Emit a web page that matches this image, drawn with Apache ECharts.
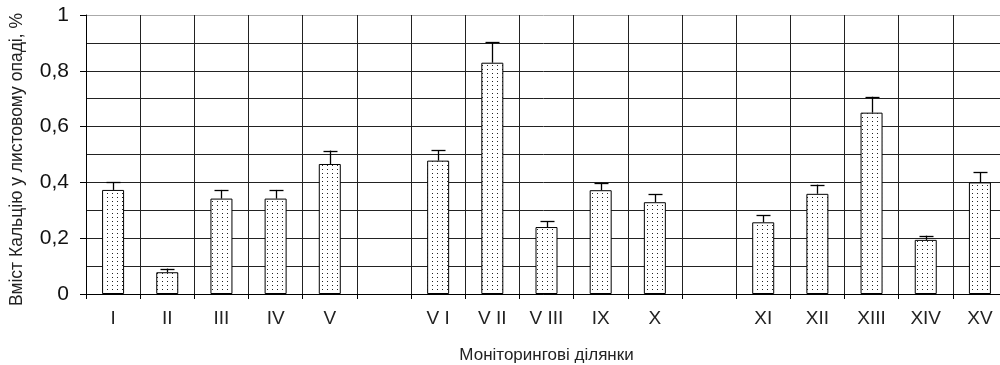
<!DOCTYPE html>
<html>
<head>
<meta charset="utf-8">
<script src="https://cdn.jsdelivr.net/npm/echarts@6/dist/echarts.min.js"></script>
<style>
  html, body { margin: 0; padding: 0; background: #fff; }
  #chart { width: 1000px; height: 365px; }
</style>
</head>
<body>
<div id="chart"></div>
<script>
// Monitoring plots; empty strings are the gaps between the three plot groups
const categories = ['I', 'II', 'III', 'IV', 'V', '', 'V I', 'V II', 'V III', 'IX', 'X', '', 'XI', 'XII', 'XIII', 'XIV', 'XV'];
// Calcium content in leaf litter, %
const calcium = [0.373, 0.078, 0.342, 0.342, 0.466, null, 0.478, 0.829, 0.240, 0.372, 0.329, null, 0.257, 0.359, 0.650, 0.194, 0.400];
// Upper error (± deviation)
const calciumErr = [0.027, 0.013, 0.031, 0.031, 0.048, null, 0.038, 0.073, 0.020, 0.027, 0.029, null, 0.026, 0.033, 0.057, 0.015, 0.036];
const yTicks = [0, 0.2, 0.4, 0.6, 0.8, 1];

// Stippled fill for the bars
function dotPattern() {
  const c = document.createElement('canvas');
  c.width = 5; c.height = 4;
  const ctx = c.getContext('2d');
  ctx.fillStyle = '#fff';
  ctx.fillRect(0, 0, 5, 4);
  ctx.fillStyle = '#222';
  ctx.fillRect(2, 1, 1, 1);
  return c;
}

const FONT = 'Liberation Sans, Arial, sans-serif';
const chart = echarts.init(document.getElementById('chart'), null, { renderer: 'canvas' });

chart.setOption({
  animation: false,
  grid: { left: 86, right: -7, top: 15, bottom: 71, containLabel: false, outerBoundsMode: 'none' },
  xAxis: {
    type: 'category',
    data: categories,
    boundaryGap: true,
    name: 'Моніторингові ділянки',
    nameLocation: 'middle',
    nameGap: 53,
    nameTextStyle: { fontFamily: FONT, fontSize: 17, color: '#222' },
    axisLine: { lineStyle: { color: '#000', width: 1 } },
    axisTick: { show: true, length: 5, lineStyle: { color: '#000' } },
    axisLabel: { fontFamily: FONT, fontSize: 19, color: '#222', margin: 15, interval: 0 },
    splitLine: { show: true, interval: 0, lineStyle: { color: '#222', width: 1 } }
  },
  yAxis: {
    type: 'value',
    min: 0,
    max: 1,
    interval: 0.2,
    name: 'Вміст Кальцію у листовому опаді, %',
    nameLocation: 'middle',
    nameGap: 60,
    nameTextStyle: { fontFamily: FONT, fontSize: 17.5, color: '#222', padding: [0, 10, 0, 0] },
    axisLine: { show: true, lineStyle: { color: '#000', width: 1 } },
    axisTick: { show: true, length: 6, lineStyle: { color: '#000' } },
    axisLabel: {
      fontFamily: FONT, fontSize: 21, color: '#111', margin: 17,
      formatter: v => {
        const t = yTicks.find(x => Math.abs(x - v) < 1e-9);
        return String(t === undefined ? v : t).replace('.', ',');
      }
    },
    splitLine: { show: true, lineStyle: { color: ['#222', '#222', '#222', '#222', '#222', '#aaa'], width: 1 } },
    minorTick: { show: false, splitNumber: 2 },
    minorSplitLine: { show: true, lineStyle: { color: '#222', width: 1 } }
  },
  series: [
    {
      type: 'bar',
      data: calcium,
      barWidth: 22,
      itemStyle: {
        color: { image: dotPattern(), repeat: 'repeat' },
        borderColor: '#000',
        borderWidth: 1
      },
      z: 3
    },
    {
      type: 'custom',
      z: 4,
      data: calcium.map((v, i) => (v == null ? [i, null, null] : [i, v, v + calciumErr[i]])),
      renderItem: function (params, api) {
        const v = api.value(1);
        if (v == null || isNaN(v)) return null;
        const base = api.coord([api.value(0), v]);
        const top = api.coord([api.value(0), api.value(2)]);
        const x = Math.round(base[0]) + 0.5;
        const half = 7;
        return {
          type: 'group',
          children: [
            { type: 'line', shape: { x1: x, y1: base[1], x2: x, y2: top[1] }, style: { stroke: '#000', lineWidth: 1.3 } },
            { type: 'line', shape: { x1: x - half, y1: Math.round(top[1]) + 0.5, x2: x + half, y2: Math.round(top[1]) + 0.5 }, style: { stroke: '#000', lineWidth: 1.3 } }
          ]
        };
      }
    }
  ]
});
</script>
</body>
</html>
